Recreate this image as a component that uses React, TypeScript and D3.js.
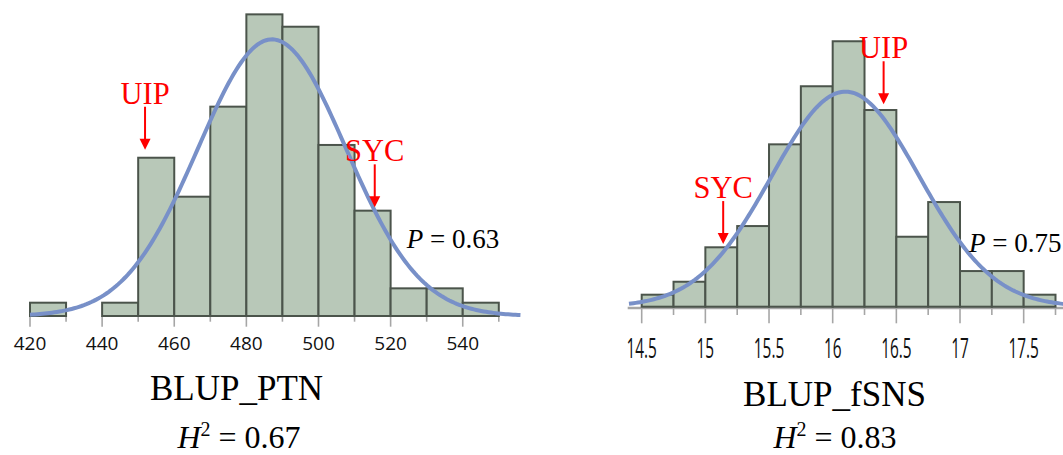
import React, { useRef, useEffect } from "react";
import * as d3 from "d3";

// BLUP_PTN histogram
const ptnEdges = [420, 430, 440, 450, 460, 470, 480, 490, 500, 510, 520, 530, 540, 550];
const ptnCounts = [1, 0, 1, 11.9, 8.97, 15.74, 22.68, 21.75, 12.86, 7.92, 2.08, 2.08, 1];
const ptnTicks = [420, 440, 460, 480, 500, 520, 540];
const ptnTickLabels = ["420", "440", "460", "480", "500", "520", "540"];
const ptnFit = { mean: 487.1, sd: 20.5, peak: 20.8, from: 420, to: 556 };
const ptnMarks = [
  { label: "UIP", value: 451.9, tip: 12.5 },
  { label: "SYC", value: 515.6, tip: 8.17 },
];

// BLUP_fSNS histogram
const fsnsEdges = [14.5, 14.75, 15, 15.25, 15.5, 15.75, 16, 16.25, 16.5, 16.75, 17, 17.25, 17.5, 17.75];
const fsnsCounts = [1, 2.08, 4.95, 6.72, 13.53, 18.37, 22.12, 16.39, 5.83, 8.72, 2.97, 2.97, 1];
const fsnsTicks = [14.5, 15, 15.5, 16, 16.5, 17, 17.5];
const fsnsTickLabels = ["14.5", "15", "15.5", "16", "16.5", "17", "17.5"];
const fsnsFit = { mean: 16.1, sd: 0.58, peak: 17.92, from: 14.4, to: 17.95 };
const fsnsMarks = [
  { label: "UIP", value: 16.4, tip: 16.87 },
  { label: "SYC", value: 15.14, tip: 5.22 },
];

const panels = [
  {
    edges: ptnEdges, counts: ptnCounts, ticks: ptnTicks, tickLabels: ptnTickLabels,
    fit: ptnFit, marks: ptnMarks,
    xRange: [30, 498.8], baseY: 316, unitPx: 13.3,
    axisLine: null, majorLen: 10.7, minorLen: 5.7,
    labelSize: 19, labelScaleX: 1, labelY: 350,
    title: "BLUP_PTN", titleX: 236.5, titleY: 399.5,
    h2: "0.67", h2X: 239, h2Y: 448,
    p: "0.63", pX: 524.5, pY: 5.09,
  },
  {
    edges: fsnsEdges, counts: fsnsCounts, ticks: fsnsTicks, tickLabels: fsnsTickLabels,
    fit: fsnsFit, marks: fsnsMarks,
    xRange: [641.7, 1055.5], baseY: 306.7, unitPx: 12,
    axisLine: [627.7, 1063], majorLen: 16.6, minorLen: 8.3,
    labelSize: 28, labelScaleX: 0.55, labelY: 358.3,
    title: "BLUP_fSNS", titleX: 834.5, titleY: 406,
    h2: "0.83", h2X: 835, h2Y: 448,
    p: "0.75", pX: 17.07, pY: 4.58,
  },
];

const serif = "'Liberation Serif', 'Times New Roman', serif";
const sans = "'Open Sans', 'DejaVu Sans', sans-serif";

const App = () => {
  const svgRef = useRef<SVGSVGElement>(null);

  useEffect(() => {
    const svg = d3.select(svgRef.current);
    svg.selectAll("*").remove();

    svg.append("rect").attr("width", 1063).attr("height", 455).attr("fill", "#ffffff");

    panels.forEach((p) => {
      const g = svg.append("g");
      const x = d3
        .scaleLinear()
        .domain([p.edges[0], p.edges[p.edges.length - 1]])
        .range(p.xRange);
      const y = d3
        .scaleLinear()
        .domain([0, 10])
        .range([p.baseY, p.baseY - 10 * p.unitPx]);

      // axis line + ticks
      if (p.axisLine) {
        g.append("line")
          .attr("x1", p.axisLine[0])
          .attr("x2", p.axisLine[1])
          .attr("y1", p.baseY + 1.2)
          .attr("y2", p.baseY + 1.2)
          .attr("stroke", "#a6a6a6")
          .attr("stroke-width", 2.5);
      }
      g.selectAll(".tick")
        .data(p.edges)
        .enter()
        .append("line")
        .attr("x1", (d) => x(d))
        .attr("x2", (d) => x(d))
        .attr("y1", p.baseY)
        .attr("y2", (d) => p.baseY + (p.ticks.includes(d) ? p.majorLen : p.minorLen))
        .attr("stroke", "#a6a6a6")
        .attr("stroke-width", 1.6);

      g.selectAll(".tlabel")
        .data(p.ticks)
        .enter()
        .append("text")
        .attr("transform", (d) => `translate(${x(d)},${p.labelY}) scale(${p.labelScaleX},1)`)
        .attr("text-anchor", "middle")
        .attr("font-family", sans)
        .attr("font-size", p.labelSize)
        .attr("fill", "#111")
        .text((d, i) => p.tickLabels[i]);

      // bars
      const bins = p.counts.map((c, i) => ({ x0: p.edges[i], x1: p.edges[i + 1], c }));
      g.selectAll(".bar")
        .data(bins.filter((b) => b.c > 0))
        .enter()
        .append("rect")
        .attr("x", (d) => x(d.x0))
        .attr("width", (d) => x(d.x1) - x(d.x0))
        .attr("y", (d) => y(d.c))
        .attr("height", (d) => y(0) - y(d.c))
        .attr("fill", "#b8c8b8")
        .attr("stroke", "#4b544b")
        .attr("stroke-width", 2);

      // fitted normal curve
      const f = p.fit;
      const pts = d3.range(0, 201).map((i) => {
        const v = f.from + ((f.to - f.from) * i) / 200;
        const z = (v - f.mean) / f.sd;
        return [v, f.peak * Math.exp(-0.5 * z * z)];
      });
      g.append("path")
        .datum(pts)
        .attr("fill", "none")
        .attr("stroke", "#7890c8")
        .attr("stroke-width", 4)
        .attr(
          "d",
          d3
            .line()
            .x((d) => x(d[0]))
            .y((d) => y(d[1]))
        );

      // arrows
      p.marks.forEach((m) => {
        const ax = x(m.value);
        const tipY = y(m.tip);
        const startY = tipY - 43;
        g.append("line")
          .attr("x1", ax)
          .attr("x2", ax)
          .attr("y1", startY)
          .attr("y2", tipY - 8)
          .attr("stroke", "#ff0000")
          .attr("stroke-width", 2);
        g.append("path")
          .attr("d", `M${ax - 5.5},${tipY - 11} L${ax + 5.5},${tipY - 11} L${ax},${tipY} Z`)
          .attr("fill", "#ff0000");
        g.append("text")
          .attr("x", ax)
          .attr("y", startY - 3)
          .attr("text-anchor", "middle")
          .attr("font-family", serif)
          .attr("font-size", 30.5)
          .attr("fill", "#ff0000")
          .text(m.label);
      });

      // P value
      const pt = g
        .append("text")
        .attr("x", x(p.pX))
        .attr("y", y(p.pY))
        .attr("font-family", serif)
        .attr("font-size", 27)
        .attr("fill", "#000");
      pt.append("tspan").attr("font-style", "italic").text("P");
      pt.append("tspan").text(` = ${p.p}`);

      // titles
      g.append("text")
        .attr("x", p.titleX)
        .attr("y", p.titleY)
        .attr("text-anchor", "middle")
        .attr("font-family", serif)
        .attr("font-size", 35)
        .attr("fill", "#000")
        .text(p.title);

      const h = g
        .append("text")
        .attr("x", p.h2X)
        .attr("y", p.h2Y)
        .attr("text-anchor", "middle")
        .attr("font-family", serif)
        .attr("font-size", 32)
        .attr("fill", "#000");
      h.append("tspan").attr("font-style", "italic").text("H");
      h.append("tspan").attr("font-size", 20).attr("dy", -12).text("2");
      h.append("tspan").attr("dy", 12).text(` = ${p.h2}`);
    });
  }, []);

  return (
    <svg
      ref={svgRef}
      width={1063}
      height={455}
      style={{ position: "absolute", left: 0, top: 0, display: "block" }}
    ></svg>
  );
};

export default App;
